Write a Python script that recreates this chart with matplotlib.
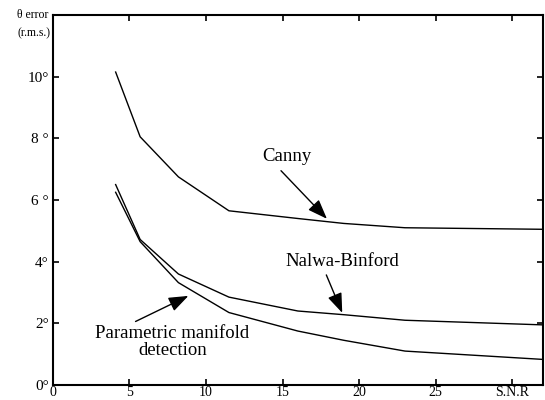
import matplotlib
matplotlib.use("Agg")
import matplotlib.pyplot as plt

# values
snr = [4.1, 5.7, 8.2, 11.5, 16, 19, 23, 32]
canny = [10.15, 8.05, 6.75, 5.65, 5.40, 5.24, 5.10, 5.05]
nalwa = [6.5, 4.72, 3.6, 2.85, 2.40, 2.28, 2.10, 1.95]
parametric = [6.25, 4.65, 3.32, 2.35, 1.75, 1.45, 1.10, 0.83]

xticks = [0, 5, 10, 15, 20, 25, 30]
xlabels = ["0", "5", "10", "15", "20", "25", "S.N.R"]
yticks = [0, 2, 4, 6, 8, 10]
ylabels = ["0°", "2°", "4°", "6 °", "8 °", "10°"]

plt.rcParams["font.family"] = ["Liberation Serif", "DejaVu Serif"]

fig = plt.figure(figsize=(5.45, 4.0), dpi=100)
ax = fig.add_axes([0.097, 0.0375, 0.899, 0.925])

for ys in (canny, nalwa, parametric):
    ax.plot(snr, ys, color="black", lw=1.0)

ax.set_xlim(0, 32)
ax.set_ylim(0, 12)
ax.set_xticks(xticks)
ax.set_xticklabels(xlabels, fontsize=10)
ax.set_yticks(yticks)
ax.set_yticklabels(ylabels, fontsize=11)
ax.tick_params(direction="in", length=4, width=1.2,
               top=True, right=True, pad=3)
ax.tick_params(axis="x", pad=1)
for s in ax.spines.values():
    s.set_linewidth(1.5)

fig.text(0.088, 0.962, "θ error", ha="right", va="center", fontsize=8.5)
fig.text(0.092, 0.917, "(r.m.s.)", ha="right", va="center", fontsize=8.5)

arrow = dict(arrowstyle="-|>,head_length=1.2,head_width=0.45",
             color="black", lw=1.0, shrinkA=0, shrinkB=0, mutation_scale=10)

# label text, then arrow from tail to tip
ax.text(15.26, 7.4, "Canny", ha="center", va="center", fontsize=13.5)
ax.annotate("", xy=(17.9, 5.39), xytext=(14.9, 6.95), arrowprops=arrow)

ax.text(18.9, 3.99, "Nalwa-Binford", ha="center", va="center", fontsize=13.5)
ax.annotate("", xy=(18.9, 2.34), xytext=(17.86, 3.57), arrowprops=arrow)

ax.text(7.8, 1.39, "Parametric manifold\ndetection", ha="center", va="center",
        fontsize=13.5, linespacing=1.0)
ax.annotate("", xy=(8.85, 2.89), xytext=(5.4, 2.06), arrowprops=arrow)

fig.savefig("out.png", dpi=100)
plt.close(fig)
